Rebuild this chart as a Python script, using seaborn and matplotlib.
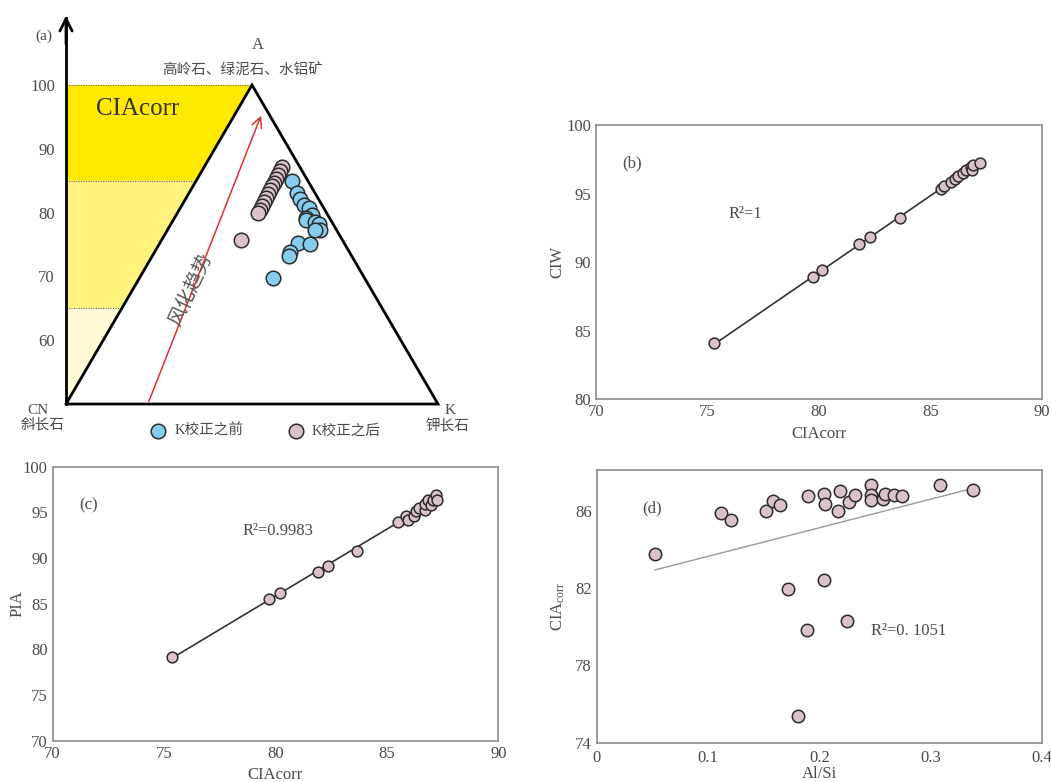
import numpy as np
import pandas as pd
import seaborn as sns
import matplotlib
import matplotlib.pyplot as plt

matplotlib.use("Agg")

sns.set_style("white")
plt.rcParams["font.family"] = ["Liberation Serif", "Noto Sans CJK SC"]
plt.rcParams["mathtext.fontset"] = "custom"
plt.rcParams["mathtext.rm"] = "Liberation Serif"
plt.rcParams["mathtext.it"] = "Liberation Serif:italic"

# ---- (a) A-CN-K 图: 横向位置(0=CN, 100=K), 纵向 CIA 值
before_x = [60.8, 62.1, 62.9, 64.0, 65.3, 66.1, 64.5, 64.5, 66.9, 68.0, 68.3, 66.9, 62.4, 65.6, 60.2, 59.9, 55.6]
before_y = [85.0, 83.1, 82.1, 81.2, 80.7, 79.6, 79.1, 78.8, 78.5, 78.2, 77.3, 77.3, 75.2, 75.1, 73.8, 73.2, 69.7]
after_x = [58.1, 57.5, 57.0, 56.5, 55.9, 55.4, 54.8, 54.3, 53.8, 53.2, 52.7, 52.2, 51.6, 47.0]
after_y = [87.1, 86.5, 85.9, 85.3, 84.6, 84.2, 83.5, 82.9, 82.3, 81.7, 81.0, 80.4, 79.9, 75.7]
cia_ticks = [60, 70, 80, 90, 100]
cia_bands = [50, 65, 85, 100]

# ---- (b) CIAcorr - CIW
cia_b = [75.3, 79.75, 80.15, 81.8, 82.3, 83.65, 85.45, 85.6, 85.9, 86.1, 86.25, 86.45, 86.6, 86.8, 86.85, 86.9, 87.2]
ciw = [84.1, 88.9, 89.4, 91.3, 91.8, 93.25, 95.3, 95.55, 95.85, 96.05, 96.25, 96.5, 96.75, 96.95, 96.75, 97.1, 97.25]

# ---- (c) CIAcorr - PIA
cia_c = [75.35, 79.7, 80.2, 81.9, 82.35, 83.65, 85.5, 85.85, 85.95, 86.2, 86.3, 86.45, 86.7, 86.7, 86.85, 87.0, 87.05, 87.2, 87.25]
pia = [79.2, 85.5, 86.2, 88.45, 89.15, 90.8, 93.95, 94.6, 94.15, 94.55, 95.1, 95.5, 95.3, 95.95, 96.3, 95.8, 96.35, 96.9, 96.35]

# ---- (d) Al/Si - CIAcorr
al_si = [0.052, 0.112, 0.121, 0.152, 0.158, 0.165, 0.190, 0.204, 0.205, 0.217, 0.219, 0.227, 0.232, 0.246,
         0.246, 0.246, 0.257, 0.259, 0.267, 0.274, 0.308, 0.338, 0.204, 0.172, 0.225, 0.189, 0.181]
cia_d = [83.74, 85.88, 85.53, 85.96, 86.50, 86.31, 86.75, 86.84, 86.32, 85.98, 87.01, 86.44, 86.79, 87.30,
         86.79, 86.53, 86.62, 86.87, 86.82, 86.75, 87.30, 87.05, 82.40, 81.97, 80.28, 79.85, 75.39]

PINK = "#dbc1ca"
BLUE = "#86ccef"
EDGE = "#2b2b2b"
TXT = "#4a4a4a"
FRAME = "#8c8c8c"

fig = plt.figure(figsize=(10.51, 7.82), dpi=100)

# ================= (a) =================
ax = fig.add_axes([0, 0.4373, 0.4472, 0.5627])
ax.set_xlim(-17.74, 108.6)
ax.set_ylim(44.36, 113.32)

# 黄色分区
band_cols = ["#fffbd8", "#fff37e", "#ffe900"]
for lo, hi, c in zip(cia_bands[:-1], cia_bands[1:], band_cols):
    ax.fill([0, lo - 50, hi - 50, 0], [lo, lo, hi, hi], color=c, lw=0, zorder=0)
for v in cia_bands[1:]:
    ax.plot([0, v - 50], [v, v], ls=(0, (1, 1.2)), color="#666666", lw=0.8, zorder=1)

# 三角形
ax.plot([0, 50, 100, 0], [50, 100, 50, 50], color="black", lw=2, zorder=2, solid_joinstyle="miter")

# 风化趋势箭头
ax.annotate("", xy=(52.7, 95.6), xytext=(22.0, 50),
            arrowprops=dict(arrowstyle="->", color="#e0302e", lw=1.1, mutation_scale=18), zorder=2)
ax.text(33.5, 68.0, "风化趋势", rotation=65, color="#555555", fontsize=14, ha="center", va="center")

sns.scatterplot(x=after_x, y=after_y, color=PINK, edgecolor=EDGE, linewidth=1.1, s=110, ax=ax, zorder=4,
                label="K校正之后")
sns.scatterplot(x=before_x, y=before_y, color=BLUE, edgecolor=EDGE, linewidth=1.1, s=110, ax=ax, zorder=3,
                label="K校正之前")
h, l = ax.get_legend_handles_labels()
ax.legend(h[::-1], l[::-1], ncol=2, loc="center", bbox_to_anchor=(0.558, 0.022), frameon=False,
          fontsize=10.5, handletextpad=0.1, columnspacing=2.6, labelcolor=TXT, markerscale=1.0)

# y 轴 (带箭头)
for s in ["top", "right", "bottom"]:
    ax.spines[s].set_visible(False)
ax.spines["left"].set_position(("data", 0))
ax.spines["left"].set_bounds(50, 110.5)
ax.spines["left"].set_color("black")
ax.spines["left"].set_linewidth(2)
ax.annotate("", xy=(0, 111.3), xytext=(0, 106), arrowprops=dict(arrowstyle="->", lw=2, color="black",
                                                                 mutation_scale=22))
ax.set_xticks([])
ax.set_yticks(cia_ticks)
ax.tick_params(axis="y", length=0, pad=8, labelsize=12, labelcolor=TXT)

ax.text(-6, 107.6, "(a)", fontsize=11, color=TXT, ha="center", va="center")
ax.text(51.5, 106.3, "A", fontsize=12, color=TXT, ha="center", va="center")
ax.text(47.5, 102.4, "高岭石、绿泥石、水铝矿", fontsize=10.5, color=TXT, ha="center", va="center")
ax.text(8, 96.3, "CIAcorr", fontsize=18, color="#333333", ha="left", va="center")
ax.text(-7.5, 49.0, "CN", fontsize=11, color=TXT, ha="center", va="center")
ax.text(-6.3, 46.7, "斜长石", fontsize=10.5, color=TXT, ha="center", va="center")
ax.text(103.2, 49.0, "K", fontsize=11, color=TXT, ha="center", va="center")
ax.text(102.5, 46.5, "钾长石", fontsize=10.5, color=TXT, ha="center", va="center")


def style_xy(ax, xlabel, ylabel, ypad=6, xpad=4):
    for s in ax.spines.values():
        s.set_color(FRAME)
        s.set_linewidth(1.2)
    ax.tick_params(labelsize=12, labelcolor=TXT, colors=FRAME, direction="in", length=3, width=0.8)
    ax.set_xlabel(xlabel, fontsize=12, color=TXT, labelpad=xpad)
    ax.set_ylabel(ylabel, fontsize=12, color=TXT, labelpad=ypad)


# ================= (b) =================
axb = fig.add_axes([0.5671, 0.4894, 0.4244, 0.3508])
dfb = pd.DataFrame({"CIAcorr": cia_b, "CIW": ciw})
sns.regplot(data=dfb, x="CIAcorr", y="CIW", ci=None, scatter=False, ax=axb,
            line_kws=dict(color="#333333", lw=1.2))
sns.scatterplot(data=dfb, x="CIAcorr", y="CIW", color=PINK, edgecolor=EDGE, linewidth=1.1, s=60, ax=axb, zorder=3)
axb.set_xlim(70, 90)
axb.set_ylim(80, 100)
axb.set_xticks([70, 75, 80, 85, 90])
axb.set_yticks([80, 85, 90, 95, 100])
style_xy(axb, "CIAcorr", "CIW", ypad=1)
axb.text(0.08, 0.86, "(b)", transform=axb.transAxes, fontsize=12, color=TXT, ha="center", va="center")
axb.text(0.335, 0.675, "R²=1", transform=axb.transAxes, fontsize=12, color=TXT, ha="center", va="center")

# ================= (c) =================
axc = fig.add_axes([0.0501, 0.0528, 0.4240, 0.3504])
dfc = pd.DataFrame({"CIAcorr": cia_c, "PIA": pia})
sns.regplot(data=dfc, x="CIAcorr", y="PIA", ci=None, scatter=False, ax=axc,
            line_kws=dict(color="#333333", lw=1.2))
sns.scatterplot(data=dfc, x="CIAcorr", y="PIA", color=PINK, edgecolor=EDGE, linewidth=1.1, s=60, ax=axc, zorder=3)
axc.set_xlim(70, 90)
axc.set_ylim(70, 100)
axc.set_xticks([70, 75, 80, 85, 90])
axc.set_yticks([70, 75, 80, 85, 90, 95, 100])
style_xy(axc, "CIAcorr", "PIA", ypad=-2)
axc.text(0.08, 0.86, "(c)", transform=axc.transAxes, fontsize=12, color=TXT, ha="center", va="center")
axc.text(0.505, 0.765, "R²=0.9983", transform=axc.transAxes, fontsize=12, color=TXT, ha="center", va="center")

# ================= (d) =================
axd = fig.add_axes([0.5677, 0.0503, 0.4237, 0.3487])
dfd = pd.DataFrame({"Al/Si": al_si, "CIAcorr": cia_d})
sns.regplot(data=dfd, x="Al/Si", y="CIAcorr", ci=None, scatter=False, ax=axd,
            line_kws=dict(color="#9a9a9a", lw=1.0))
sns.scatterplot(data=dfd, x="Al/Si", y="CIAcorr", color=PINK, edgecolor=EDGE, linewidth=1.1, s=80, ax=axd, zorder=3)
axd.set_xlim(0, 0.4)
axd.set_ylim(74, 88.1)
axd.set_xticks([0, 0.1, 0.2, 0.3, 0.4])
axd.set_xticklabels(["0", "0.1", "0.2", "0.3", "0.4"])
axd.set_xticks(np.arange(0.05, 0.4, 0.1), minor=True)
axd.set_yticks([74, 78, 82, 86])
axd.set_yticks([76, 80, 84], minor=True)
style_xy(axd, "Al/Si", "CIA$_{\\mathrm{corr}}$", xpad=0)
axd.tick_params(which="both", direction="in", length=8, width=0.8, colors=FRAME, labelcolor=TXT)
axd.tick_params(axis="x", pad=5)
axd.text(0.125, 0.86, "(d)", transform=axd.transAxes, fontsize=12, color=TXT, ha="center", va="center")
axd.text(0.7, 0.41, "R²=0. 1051", transform=axd.transAxes, fontsize=12, color=TXT, ha="center", va="center")

fig.savefig("out.png", dpi=100)
